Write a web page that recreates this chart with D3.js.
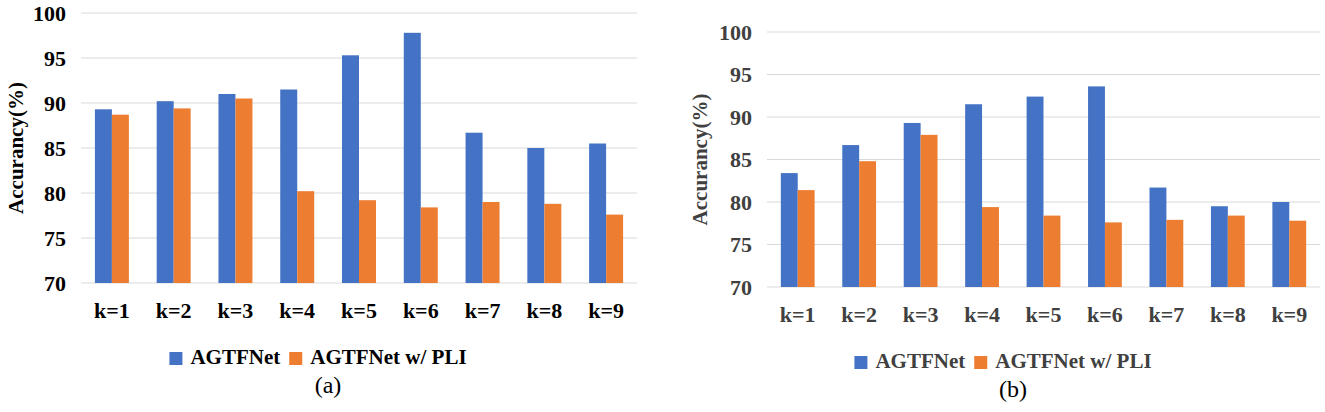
<!DOCTYPE html>
<html>
<head>
<meta charset="utf-8">
<script src="https://cdn.jsdelivr.net/npm/d3@7"></script>
<style>
  body { margin: 0; background: #fff; }
  svg, svg text { font-family: "Liberation Serif", "Times New Roman", Times, Tinos, "DejaVu Serif", serif !important; }
</style>
</head>
<body>
<div id="chart"></div>
<script>
// Data
const categories = ["k=1", "k=2", "k=3", "k=4", "k=5", "k=6", "k=7", "k=8", "k=9"];
const seriesNames = ["AGTFNet", "AGTFNet w/ PLI"];
const seriesColors = ["#4472C4", "#ED7D31"];
const yTicks = [70, 75, 80, 85, 90, 95, 100];

// (a)
const accA_agtfnet = [89.3, 90.2, 91.0, 91.5, 95.3, 97.8, 86.7, 85.0, 85.5];
const accA_pli = [88.7, 89.4, 90.5, 80.2, 79.2, 78.4, 79.0, 78.8, 77.6];

// (b)
const accB_agtfnet = [83.4, 86.7, 89.3, 91.5, 92.4, 93.6, 81.7, 79.5, 80.0];
const accB_pli = [81.4, 84.8, 87.9, 79.4, 78.4, 77.6, 77.9, 78.4, 77.8];

const svg = d3.select("#chart").append("svg").attr("width", 1325).attr("height", 412);

function drawPanel(opts) {
  const g = svg.append("g");
  const rows = categories.map((c, i) => ({ cat: c, values: opts.series.map((s) => s[i]) }));

  const x = d3.scaleBand().domain(categories).range([opts.x0, opts.x1]).paddingInner(0.45).paddingOuter(0.225);
  const xs = d3.scaleBand().domain(d3.range(seriesNames.length)).range([0, x.bandwidth()]);
  const y = d3.scaleLinear().domain([70, 100]).range([opts.yBottom, opts.yTop]);

  // gridlines
  g.append("g")
    .selectAll("line")
    .data(yTicks)
    .join("line")
    .attr("x1", opts.x0)
    .attr("x2", opts.x1)
    .attr("y1", (d) => y(d))
    .attr("y2", (d) => y(d))
    .attr("stroke", "#d9d9d9")
    .attr("stroke-width", 1.2);

  // bars
  g.append("g")
    .selectAll("g")
    .data(rows)
    .join("g")
    .attr("transform", (d) => `translate(${x(d.cat)},0)`)
    .selectAll("rect")
    .data((d) => d.values)
    .join("rect")
    .attr("x", (d, i) => xs(i))
    .attr("width", xs.bandwidth())
    .attr("y", (d) => y(d))
    .attr("height", (d) => y(70) - y(d))
    .attr("fill", (d, i) => seriesColors[i]);

  // y axis labels
  const yAxis = g.append("g").attr("transform", `translate(${opts.x0 - 15},0)`)
    .call(d3.axisLeft(y).tickValues(yTicks).tickSize(0).tickPadding(0))
    .attr("font-family", null);
  yAxis.select(".domain").remove();
  yAxis.selectAll("text")
    .attr("font-size", 22)
    .attr("font-weight", "bold")
    .attr("fill", opts.textColor);

  // x axis labels
  const xAxis = g.append("g").attr("transform", `translate(0,${opts.yBottom})`)
    .call(d3.axisBottom(x).tickSize(0).tickPadding(0))
    .attr("font-family", null);
  xAxis.select(".domain").remove();
  xAxis.selectAll("text")
    .attr("dy", null)
    .attr("y", 35)
    .attr("font-size", 22)
    .attr("font-weight", "bold")
    .attr("fill", opts.textColor);

  // y title
  g.append("text")
    .attr("transform", `translate(${opts.titleX},${(opts.yTop + opts.yBottom) / 2}) rotate(-90)`)
    .attr("dy", "0.35em")
    .attr("text-anchor", "middle")
    .attr("font-size", 21)
    .attr("font-weight", "bold")
    .attr("fill", opts.textColor)
    .text("Accurancy(%)");

  // legend, laid out from text widths then centred
  const legend = g.append("g");
  let cx = 0;
  seriesNames.forEach((name, i) => {
    if (i > 0) cx += 9;
    legend.append("rect").attr("x", cx).attr("y", -12).attr("width", 13).attr("height", 13).attr("fill", seriesColors[i]);
    cx += 13 + 8;
    const t = legend.append("text")
      .attr("x", cx)
      .attr("font-size", 21)
      .attr("font-weight", "bold")
      .attr("fill", opts.textColor)
      .text(name);
    cx += t.node().getComputedTextLength();
  });
  legend.attr("transform", `translate(${opts.legendCenter - cx / 2},${opts.legendY})`);

  // panel caption
  g.append("text")
    .attr("x", opts.captionX)
    .attr("y", opts.captionY)
    .attr("text-anchor", "middle")
    .attr("font-size", 24)
    .attr("fill", "#000")
    .text(opts.caption);
}

drawPanel({
  series: [accA_agtfnet, accA_pli],
  x0: 81, x1: 637, yTop: 13, yBottom: 283,
  titleX: 16, textColor: "#000",
  legendCenter: 318, legendY: 364,
  caption: "(a)", captionX: 328, captionY: 393,
});

drawPanel({
  series: [accB_agtfnet, accB_pli],
  x0: 767, x1: 1320, yTop: 32, yBottom: 287,
  titleX: 700, textColor: "#404040",
  legendCenter: 1003, legendY: 368,
  caption: "(b)", captionX: 1013, captionY: 397,
});
</script>
</body>
</html>
